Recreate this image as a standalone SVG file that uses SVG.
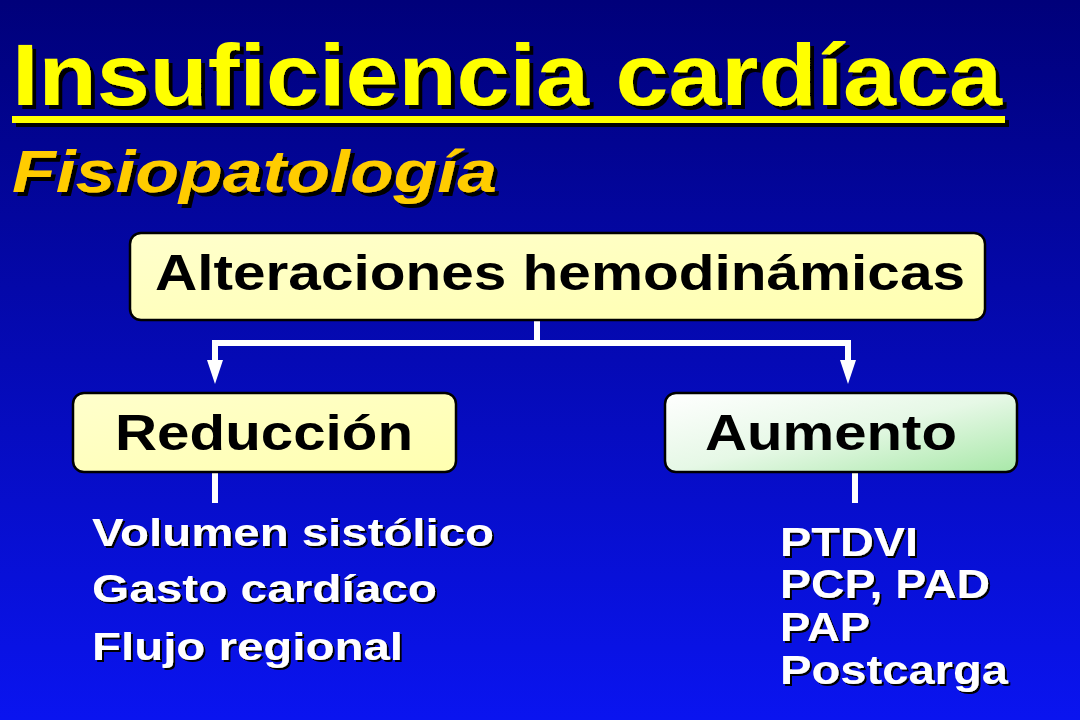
<svg xmlns="http://www.w3.org/2000/svg" width="1080" height="720" viewBox="0 0 1080 720">
<defs>
<linearGradient id="bg" x1="0" y1="0" x2="0" y2="1"><stop offset="0" stop-color="#00007a"/><stop offset="1" stop-color="#0a14f0"/></linearGradient>
<linearGradient id="gr" x1="0" y1="0" x2="1" y2="1"><stop offset="0" stop-color="#ffffff"/><stop offset="0.5" stop-color="#e6f8e6"/><stop offset="1" stop-color="#a8e8a8"/></linearGradient>
<linearGradient id="yl" x1="0" y1="0" x2="1" y2="1"><stop offset="0" stop-color="#ffffcc"/><stop offset="1" stop-color="#ffffb0"/></linearGradient>
<filter id="ds" x="-5%" y="-5%" width="110%" height="120%"><feDropShadow dx="4" dy="4" stdDeviation="0" flood-color="#000"/></filter>
<filter id="ds2" x="-5%" y="-5%" width="110%" height="120%"><feDropShadow dx="2" dy="2" stdDeviation="0" flood-color="#000"/></filter>
<style>
.t{font-family:"Liberation Sans",Arial,sans-serif;font-weight:bold}
.box{stroke:#000;stroke-width:2.5}
.nl{font-size:50px;fill:#000}
.w{fill:#fff;font-size:38px;filter:url(#ds2)}
.w2{fill:#fff;font-size:40px;filter:url(#ds2)}
.c{stroke:#fff;stroke-width:6;fill:none}
</style>
</defs>
<rect width="1080" height="720" fill="url(#bg)"/>
<g id="title" filter="url(#ds)">
<text class="t" x="12" y="105" font-size="88" fill="#ffff00" textLength="990" lengthAdjust="spacingAndGlyphs">Insuficiencia cardíaca</text>
<rect x="12" y="116" width="993" height="7" fill="#ffff00"/>
<text class="t" x="12" y="192" font-size="60" font-style="italic" fill="#ffcc00" textLength="485" lengthAdjust="spacingAndGlyphs">Fisiopatología</text>
</g>
<g id="connectors">
<path class="c" d="M537,320 V343 M212,343 H851 M215,341 V364 M848,341 V364"/>
<path d="M207,360 L223,360 L215,384 z M840,360 L856,360 L848,384 z" fill="#fff"/>
<path class="c" d="M215,472 V503 M855,472 V503"/>
</g>
<g id="n-alteraciones">
<rect class="box" x="130" y="233" width="855" height="87" rx="11" fill="url(#yl)"/>
<text class="t nl" x="155" y="290" font-size="48" textLength="810" lengthAdjust="spacingAndGlyphs">Alteraciones hemodinámicas</text>
</g>
<g id="n-reduccion">
<rect class="box" x="73" y="393" width="383" height="79" rx="11" fill="url(#yl)"/>
<text class="t nl" x="115" y="450" textLength="298" lengthAdjust="spacingAndGlyphs">Reducción</text>
</g>
<g id="n-aumento">
<rect class="box" x="665" y="393" width="352" height="79" rx="11" fill="url(#gr)"/>
<text class="t nl" x="705" y="450" textLength="252" lengthAdjust="spacingAndGlyphs">Aumento</text>
</g>
<g id="list-reduccion">
<text class="t w" x="92" y="546" textLength="402" lengthAdjust="spacingAndGlyphs">Volumen sistólico</text>
<text class="t w" x="92" y="602" textLength="345" lengthAdjust="spacingAndGlyphs">Gasto cardíaco</text>
<text class="t w" x="92" y="660" textLength="311" lengthAdjust="spacingAndGlyphs">Flujo regional</text>
</g>
<g id="list-aumento">
<text class="t w2" x="780" y="556" textLength="138" lengthAdjust="spacingAndGlyphs">PTDVI</text>
<text class="t w2" x="780" y="598" textLength="210" lengthAdjust="spacingAndGlyphs">PCP, PAD</text>
<text class="t w2" x="780" y="641" textLength="90" lengthAdjust="spacingAndGlyphs">PAP</text>
<text class="t w2" x="780" y="684" textLength="228" lengthAdjust="spacingAndGlyphs">Postcarga</text>
</g>
</svg>
